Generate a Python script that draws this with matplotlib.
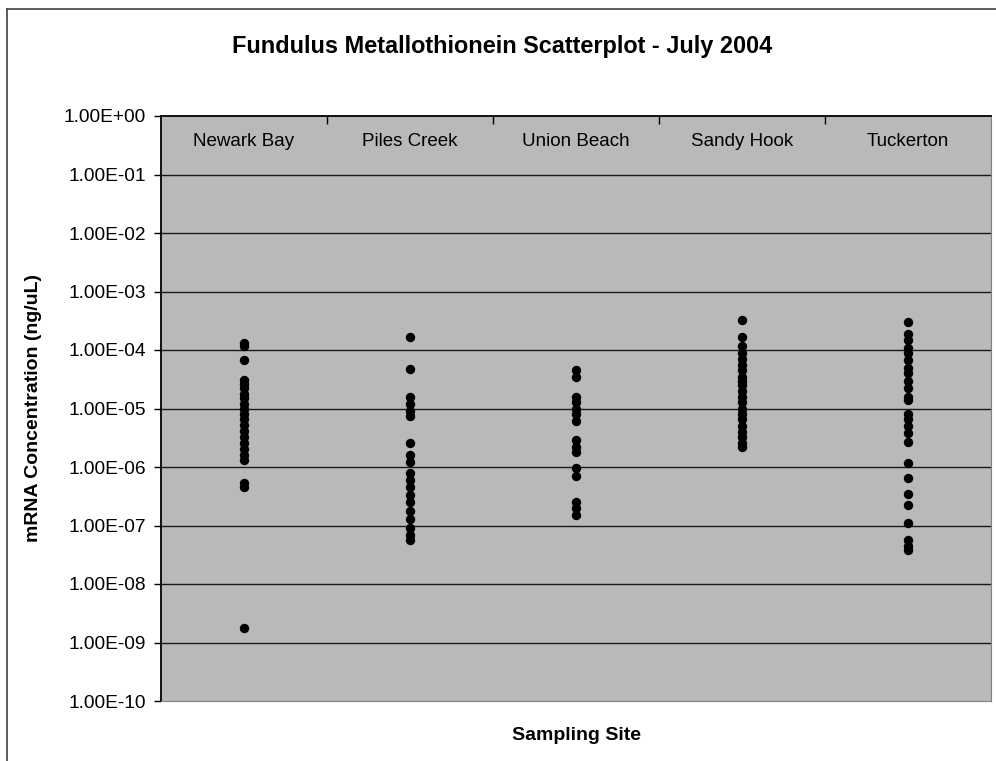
import numpy as np
import matplotlib
matplotlib.use("Agg")
import matplotlib.pyplot as plt
from matplotlib.transforms import blended_transform_factory
from matplotlib.lines import Line2D

plt.rcParams['font.family'] = ['Liberation Sans', 'DejaVu Sans']

sites = ["Newark Bay", "Piles Creek", "Union Beach", "Sandy Hook", "Tuckerton"]

newark_bay = [1.3e-4, 1.15e-4, 6.8e-5, 3.1e-5, 2.6e-5, 2.2e-5, 1.8e-5, 1.5e-5,
              1.2e-5, 1.0e-5, 8.0e-6, 6.5e-6, 5.2e-6, 4.2e-6, 3.3e-6, 2.6e-6,
              2.0e-6, 1.6e-6, 1.3e-6, 5.3e-7, 4.6e-7, 1.8e-9]
piles_creek = [1.7e-4, 4.8e-5, 1.6e-5, 1.2e-5, 9.0e-6, 7.3e-6, 2.6e-6, 1.6e-6,
               1.2e-6, 8.0e-7, 6.0e-7, 4.5e-7, 3.3e-7, 2.5e-7, 1.8e-7, 1.3e-7,
               9.0e-8, 7.0e-8, 5.6e-8]
union_beach = [4.5e-5, 3.5e-5, 1.6e-5, 1.3e-5, 1.0e-5, 8.0e-6, 6.0e-6, 2.9e-6,
               2.2e-6, 1.8e-6, 9.5e-7, 7.0e-7, 2.5e-7, 2.0e-7, 1.5e-7]
sandy_hook = [3.2e-4, 1.7e-4, 1.15e-4, 9.0e-5, 7.0e-5, 5.5e-5, 4.5e-5, 3.5e-5,
              3.0e-5, 2.5e-5, 2.0e-5, 1.6e-5, 1.3e-5, 1.0e-5, 8.0e-6, 6.5e-6,
              5.0e-6, 4.0e-6, 3.2e-6, 2.6e-6, 2.2e-6]
tuckerton = [3.0e-4, 1.9e-4, 1.5e-4, 1.1e-4, 9.0e-5, 6.8e-5, 5.0e-5, 4.0e-5,
             3.0e-5, 2.2e-5, 1.6e-5, 1.4e-5, 8.0e-6, 6.5e-6, 5.0e-6, 3.8e-6,
             2.7e-6, 1.17e-6, 6.5e-7, 3.5e-7, 2.2e-7, 1.1e-7, 5.6e-8, 4.5e-8,
             3.8e-8]

series = [newark_bay, piles_creek, union_beach, sandy_hook, tuckerton]

y_ticks = [10.0 ** e for e in range(0, -11, -1)]
y_tick_labels = ["1.00E+00", "1.00E-01", "1.00E-02", "1.00E-03", "1.00E-04",
                 "1.00E-05", "1.00E-06", "1.00E-07", "1.00E-08", "1.00E-09",
                 "1.00E-10"]

W, H = 996, 761
fig = plt.figure(figsize=(W / 100, H / 100), dpi=100)

# outer chart border (left and top edges visible)
fig.add_artist(Line2D([7 / W, 7 / W], [0, 1 - 9 / H], color='#404040', lw=1.2,
                      transform=fig.transFigure))
fig.add_artist(Line2D([7 / W, 1], [1 - 9 / H, 1 - 9 / H], color='#404040', lw=1.2,
                      transform=fig.transFigure))

left, right, top, bottom = 161, 991, 116, 701
ax = fig.add_axes([left / W, 1 - bottom / H, (right - left) / W, (bottom - top) / H])
ax.set_facecolor('#b9b9b9')
ax.set_yscale('log')
ax.set_ylim(1e-10, 1e0)
ax.set_xlim(0.5, len(sites) + 0.5)

for i, vals in enumerate(series, start=1):
    ax.scatter(np.full(len(vals), i), vals, s=46, color='black', zorder=3,
               linewidths=0)

ax.set_yticks(y_ticks)
ax.set_yticklabels(y_tick_labels, fontsize=13.8)
ax.yaxis.set_minor_locator(matplotlib.ticker.NullLocator())
ax.tick_params(axis='y', direction='out', length=5, width=1, pad=6, color='black')
for e in range(-1, -10, -1):
    ax.axhline(10.0 ** e, color='#1a1a1a', lw=1.0, zorder=1)

# category axis along the top edge, boundary ticks pointing into the plot
ax.xaxis.tick_top()
ax.set_xticks(np.arange(1.5, len(sites), 1.0))
ax.set_xticklabels([])
ax.tick_params(axis='x', direction='in', length=6, width=1, color='black')
trans = blended_transform_factory(ax.transData, ax.transAxes)
for i, name in enumerate(sites, start=1):
    ax.text(i, 1 - 26 / (bottom - top), name, transform=trans, ha='center',
            va='center', fontsize=13.5, color='black')

ax.spines['left'].set_color('black')
ax.spines['left'].set_linewidth(1.3)
ax.spines['top'].set_color('black')
ax.spines['top'].set_linewidth(1.3)
ax.spines['bottom'].set_color('#808080')
ax.spines['right'].set_color('#808080')

fig.text(0.504, 1 - 47 / H, "Fundulus Metallothionein Scatterplot - July 2004",
         ha='center', va='center', fontsize=16.9, fontweight='bold')
fig.text((left + right) / 2 / W, 1 - 735 / H, "Sampling Site", ha='center',
         va='center', fontsize=14, fontweight='bold')
fig.text(33 / W, 1 - (top + bottom) / 2 / H, "mRNA Concentration (ng/uL)",
         ha='center', va='center', rotation=90, fontsize=14, fontweight='bold')

fig.savefig("out.png", dpi=100, facecolor='white')
